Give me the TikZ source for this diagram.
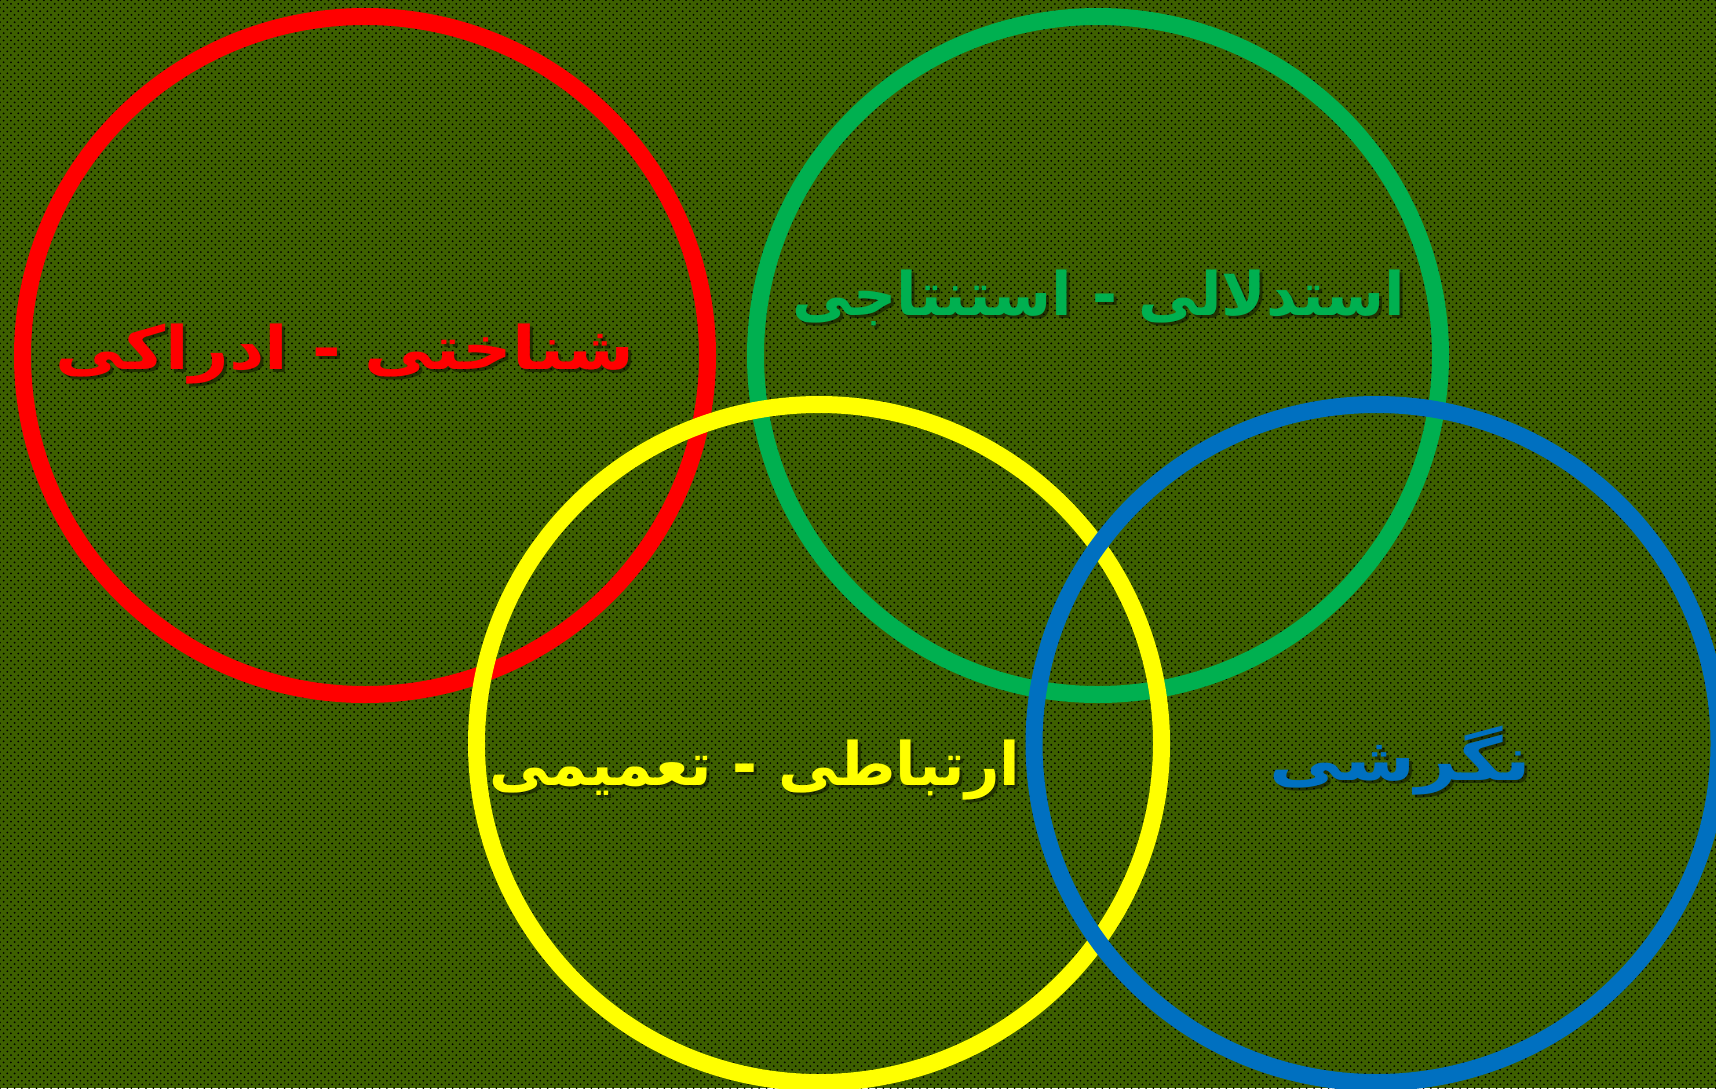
\documentclass[tikz,border=0pt]{standalone}
\usepackage{fontspec}
\usetikzlibrary{patterns.meta}
\newfontfamily\arabicfont[Script=Arabic]{DejaVu Sans}
\TeXXeTstate=1
\definecolor{bggreen}{RGB}{62,96,0}
\definecolor{cred}{RGB}{255,0,0}
\definecolor{cgreen}{RGB}{0,176,80}
\definecolor{cyellow}{RGB}{255,255,0}
\definecolor{cblue}{RGB}{0,112,192}
\tikzset{
  ring/.style={line width=17pt},
  lbl/.style={font=\arabicfont\bfseries\fontsize{60}{64}\selectfont, inner sep=0pt, anchor=base},
  shadowtxt/.style={lbl, text=black, opacity=0.45},
}
\begin{document}
\begin{tikzpicture}[x=1pt,y=-1pt]
\useasboundingbox (0,0) rectangle (1716,1088);
\fill[bggreen] (0,0) rectangle (1716,1088);
\fill[pattern={Dots[distance=7.3pt,radius=1pt]}, pattern color=black] (0,0) rectangle (1716,1088);
\fill[pattern={Dots[distance=7.3pt,radius=1pt,xshift=3.65pt,yshift=3.65pt]}, pattern color=black] (0,0) rectangle (1716,1088);

\draw[ring, cred] (365,355.5) ellipse [x radius=342.5, y radius=339];
\draw[ring, cgreen] (1098,355.5) ellipse [x radius=342.5, y radius=339];
\draw[ring, cyellow] (819,743.5) ellipse [x radius=342.5, y radius=339];
\draw[ring, cblue] (1376.5,743.5) ellipse [x radius=342.5, y radius=339];

\node[shadowtxt] (redsh) at (348,372) {\scalebox{1.15}[1]{\beginR شناختی - ادراکی\endR}};
\node[lbl, text=cred] (redtxt) at (345,369) {\scalebox{1.15}[1]{\beginR شناختی - ادراکی\endR}};

\node[shadowtxt] (greensh) at (1102,318) {\beginR استدلالی - استنتاجی\endR};
\node[lbl, text=cgreen] (greentxt) at (1099,315) {\beginR استدلالی - استنتاجی\endR};

\node[shadowtxt] (yellowsh) at (758,788) {\beginR ارتباطی - تعمیمی\endR};
\node[lbl, text=cyellow] (yellowtxt) at (755,785) {\beginR ارتباطی - تعمیمی\endR};

\node[shadowtxt] (bluesh) at (1403,783) {\scalebox{1.22}[1]{\beginR نگرشی\endR}};
\node[lbl, text=cblue] (bluetxt) at (1400,780) {\scalebox{1.22}[1]{\beginR نگرشی\endR}};
\end{tikzpicture}
\end{document}
